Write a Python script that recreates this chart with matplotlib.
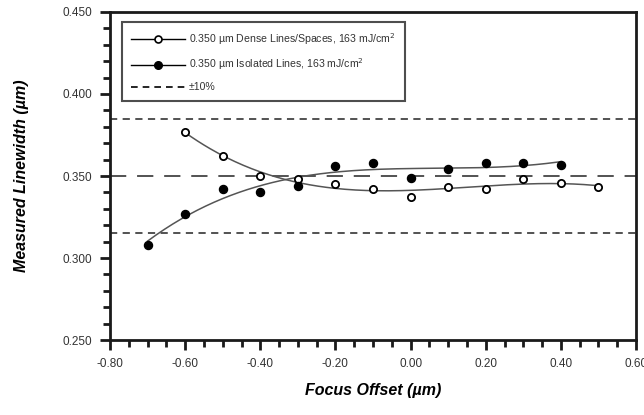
import numpy as np
import matplotlib
matplotlib.use("Agg")
import matplotlib.pyplot as plt
from matplotlib.lines import Line2D
from matplotlib.ticker import MultipleLocator, FormatStrFormatter

plt.rcParams['font.family'] = ['Liberation Sans', 'DejaVu Sans']
plt.rcParams['axes.unicode_minus'] = False

# Measured linewidth vs focus offset
dense_focus = [-0.6, -0.5, -0.4, -0.3, -0.2, -0.1, 0.0, 0.1, 0.2, 0.3, 0.4, 0.5]
dense_cd = [0.377, 0.362, 0.350, 0.348, 0.345, 0.342, 0.337, 0.343, 0.342, 0.348, 0.346, 0.343]

iso_focus = [-0.7, -0.6, -0.5, -0.4, -0.3, -0.2, -0.1, 0.0, 0.1, 0.2, 0.3, 0.4]
iso_cd = [0.308, 0.327, 0.342, 0.340, 0.344, 0.356, 0.358, 0.349, 0.354, 0.358, 0.358, 0.357]

target_cd = 0.350
tolerance = 0.10

fig = plt.figure(figsize=(6.44, 4.15), dpi=100)
ax = fig.add_axes([0.1708, 0.1807, 0.8168, 0.7904])

# Least-squares trend curves through each data set
for fx, fy in ((dense_focus, dense_cd), (iso_focus, iso_cd)):
    coef = np.polyfit(fx, fy, 3)
    xs = np.linspace(min(fx), max(fx), 200)
    ax.plot(xs, np.polyval(coef, xs), color='#555555', lw=1.1, zorder=2)

# Target and +/-10% limits
ax.axhline(target_cd, color='#444444', lw=1.3, dashes=(9, 6), zorder=1)
for lim in (target_cd * (1 + tolerance), target_cd * (1 - tolerance)):
    ax.axhline(lim, color='#444444', lw=1.3, dashes=(4, 3), zorder=1)

ax.plot(dense_focus, dense_cd, 'o', ms=5.2, mfc='white', mec='black', mew=1.3,
        ls='none', zorder=3)
ax.plot(iso_focus, iso_cd, 'o', ms=5.8, mfc='black', mec='black', ls='none', zorder=3)

ax.set_xlim(-0.8, 0.6)
ax.set_ylim(0.25, 0.45)
ax.xaxis.set_major_locator(MultipleLocator(0.2))
ax.xaxis.set_minor_locator(MultipleLocator(0.05))
ax.yaxis.set_major_locator(MultipleLocator(0.05))
ax.yaxis.set_minor_locator(MultipleLocator(0.01))
ax.xaxis.set_major_formatter(FormatStrFormatter('%.2f'))
ax.yaxis.set_major_formatter(FormatStrFormatter('%.3f'))

for s in ax.spines.values():
    s.set_linewidth(2.0)
    s.set_color('#1a1a1a')
ax.tick_params(which='major', direction='out', length=7, width=2, labelsize=8.5,
               labelcolor='#333333', color='#1a1a1a', pad=6)
ax.tick_params(which='minor', direction='out', length=5, width=2, color='#1a1a1a')
ax.tick_params(top=False, right=False, which='both')

ax.set_xlabel('Focus Offset (µm)', fontsize=11.5, fontweight='bold', style='italic',
              labelpad=9)
ax.set_ylabel('Measured Linewidth (µm)', fontsize=11.5, fontweight='bold', style='italic',
              labelpad=24)

handles = [
    Line2D([], [], color='black', lw=1, marker='o', ms=5, mfc='white', mec='black', mew=1.2),
    Line2D([], [], color='black', lw=1, marker='o', ms=5.5, mfc='black', mec='black'),
    Line2D([], [], color='black', lw=1.2, dashes=(4, 3)),
]
labels = ['0.350 µm Dense Lines/Spaces, 163 mJ/cm$^2$',
          '0.350 µm Isolated Lines, 163 mJ/cm$^2$',
          '±10%']
leg = ax.legend(handles, labels, loc='upper left', bbox_to_anchor=(0.022, 0.97),
                fontsize=7.6, frameon=True, fancybox=False, handlelength=5.2,
                handletextpad=0.35, borderpad=0.85, labelspacing=0.95,
                borderaxespad=0)
leg.get_frame().set_edgecolor('#222222')
leg.get_frame().set_linewidth(1.5)
for t in leg.get_texts():
    t.set_color('#333333')

fig.savefig('out.png', dpi=100)
